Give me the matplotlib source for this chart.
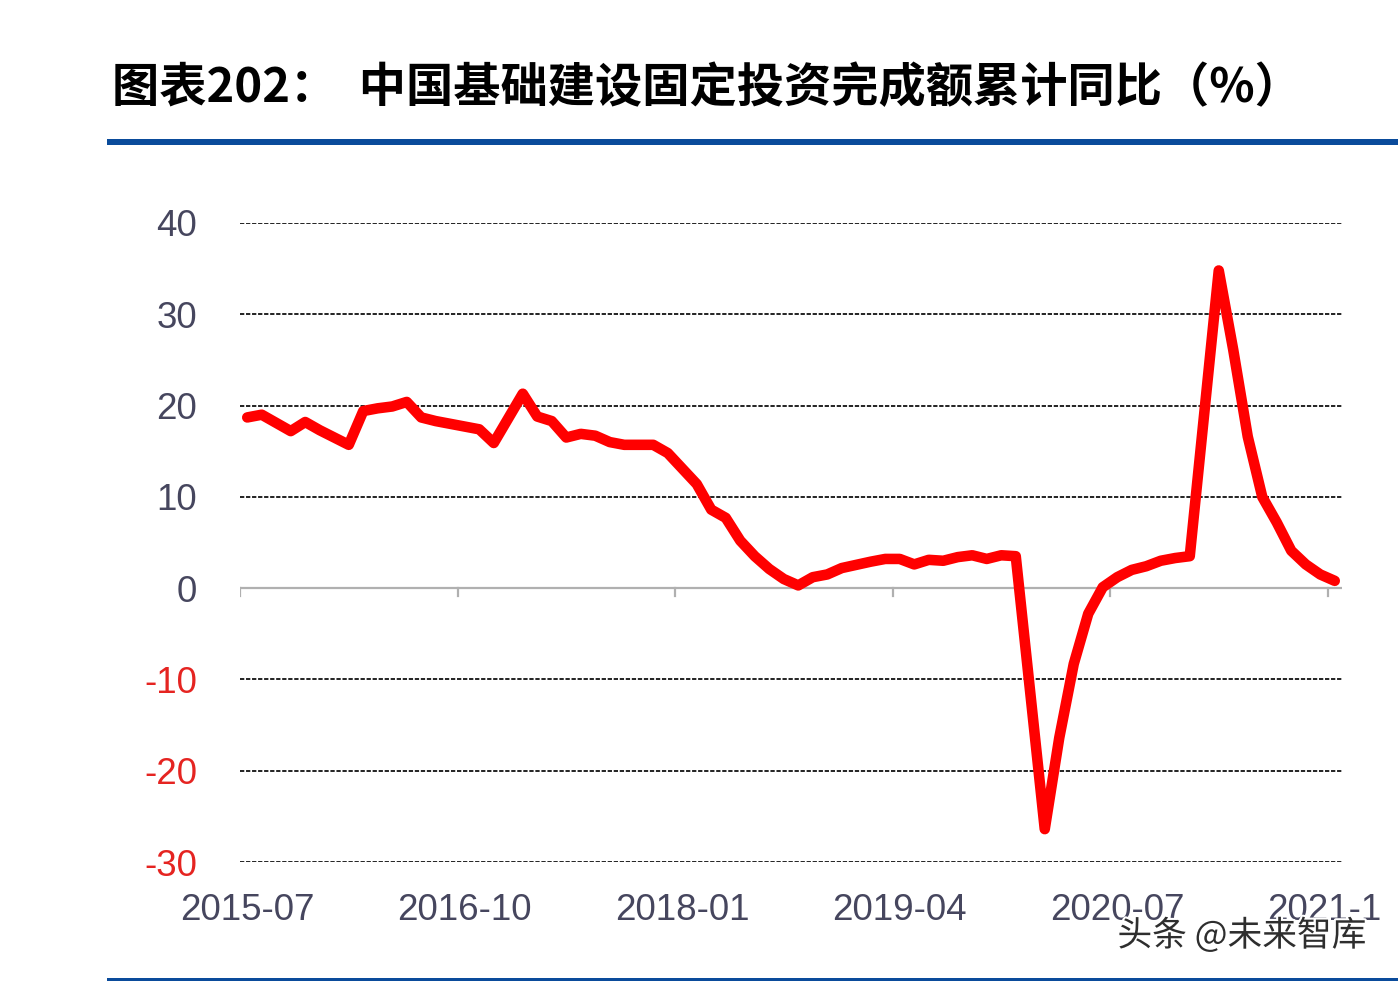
import matplotlib
matplotlib.use("Agg")
import matplotlib.pyplot as plt
import matplotlib.patheffects as pe
from matplotlib.patches import Rectangle
from matplotlib.lines import Line2D
import numpy as np

# ---- data (monthly, 2015-07 .. 2021-10; January not published -> None) ----
months = [f"{y}-{m:02d}" for y in range(2015, 2022) for m in range(1, 13)]
months = months[months.index("2015-07"):months.index("2021-10") + 1]
values = [
    18.7, 19.0, 18.1, 17.2, 18.2, 17.3,                          # 2015-07..12
    None, 15.7, 19.4, 19.7, 19.9, 20.4, 18.7, 18.3, 18.0, 17.7, 17.4, 15.9,  # 2016
    None, 21.3, 18.8, 18.3, 16.5, 16.9, 16.7, 16.0, 15.7, 15.7, 15.7, 14.8,  # 2017
    None, 11.4, 8.6, 7.7, 5.2, 3.5, 2.1, 1.0, 0.3, 1.2, 1.5, 2.2,           # 2018
    None, 2.9, 3.2, 3.2, 2.6, 3.1, 3.0, 3.4, 3.6, 3.2, 3.6, 3.5,            # 2019
    None, -26.4, -16.4, -8.3, -2.8, 0.1, 1.2, 2.0, 2.4, 3.0, 3.3, 3.5,      # 2020
    None, 34.8, 26.1, 16.6, 10.0, 7.2, 4.1, 2.6, 1.5, 0.8,                  # 2021
]
tick_every = 15
y_ticks = [-30, -20, -10, 0, 10, 20, 30, 40]
title = "图表202：  中国基础建设固定投资完成额累计同比（%）"
watermark = "头条 @未来智库"

# ---- figure ----
W, H = 1398, 982
fig = plt.figure(figsize=(W / 100, H / 100), dpi=100)
fig.patch.set_facecolor("white")

ax = fig.add_axes([240 / W, 1 - 862 / H, 1102 / W, (862 - 223) / H])
n = len(months)
xs = [i for i, v in enumerate(values) if v is not None]
ys = [v for v in values if v is not None]

ax.set_xlim(-0.5, n - 0.5)
ax.set_ylim(-30, 40)

for s in ax.spines.values():
    s.set_visible(False)

# grid lines
for yv in y_ticks:
    if yv == 0:
        continue
    ax.axhline(yv, color="#222222", lw=1.4, ls=(0, (2.2, 0.9)), zorder=1)
# zero axis line with category-boundary ticks
ax.axhline(0, color="#b0b0b0", lw=1.6, zorder=1)
for b in np.arange(-0.5, n - 0.5, tick_every):
    ax.add_line(Line2D([b, b], [0, -0.9], color="#b0b0b0", lw=1.6, zorder=1))

ax.plot(xs, ys, color="#ff0000", lw=7.6, solid_joinstyle="round",
        solid_capstyle="round", zorder=3)

# y tick labels
ax.set_yticks(y_ticks)
ax.set_yticklabels([str(t) for t in y_ticks])
ax.tick_params(axis="y", length=0, pad=31, labelsize=26.5)
for lab, t in zip(ax.get_yticklabels(), y_ticks):
    lab.set_color("#e52421" if t < 0 else "#46465e")
    lab.set_fontfamily("Liberation Sans")

# x tick labels
xt = list(range(0, n, tick_every))
ax.set_xticks(xt)
ax.set_xticklabels([months[i] for i in xt])
ax.tick_params(axis="x", length=0, pad=22, labelsize=26.5, colors="#46465e")
for lab in ax.get_xticklabels():
    lab.set_fontfamily("Liberation Sans")

# title
fig.text(112 / W, 1 - 88 / H, title, fontsize=34, fontweight="bold",
         family=["Noto Sans CJK SC", "DejaVu Sans"], color="black",
         va="center", ha="left")

# blue rules
fig.add_artist(Rectangle((107 / W, 1 - 145 / H), 1 - 107 / W, 6 / H,
                         transform=fig.transFigure, color="#0a4b9b", lw=0))
fig.add_artist(Rectangle((107 / W, 1 - 981 / H), 1 - 107 / W, 3 / H,
                         transform=fig.transFigure, color="#0a4b9b", lw=0))

# the reference image is cropped just after "2021-1"
fig.add_artist(Rectangle((1381 / W, 1 - 930 / H), 20 / W, 50 / H,
                         transform=fig.transFigure, color="white", lw=0, zorder=5))

# watermark
fig.text(1242 / W, 1 - 936 / H, watermark, fontsize=25,
         family=["Noto Sans CJK SC", "DejaVu Sans"], color="#2e2e2e",
         ha="center", va="center", zorder=6,
         path_effects=[pe.withStroke(linewidth=3, foreground="white")])

fig.savefig("out.png", dpi=100, facecolor="white")
